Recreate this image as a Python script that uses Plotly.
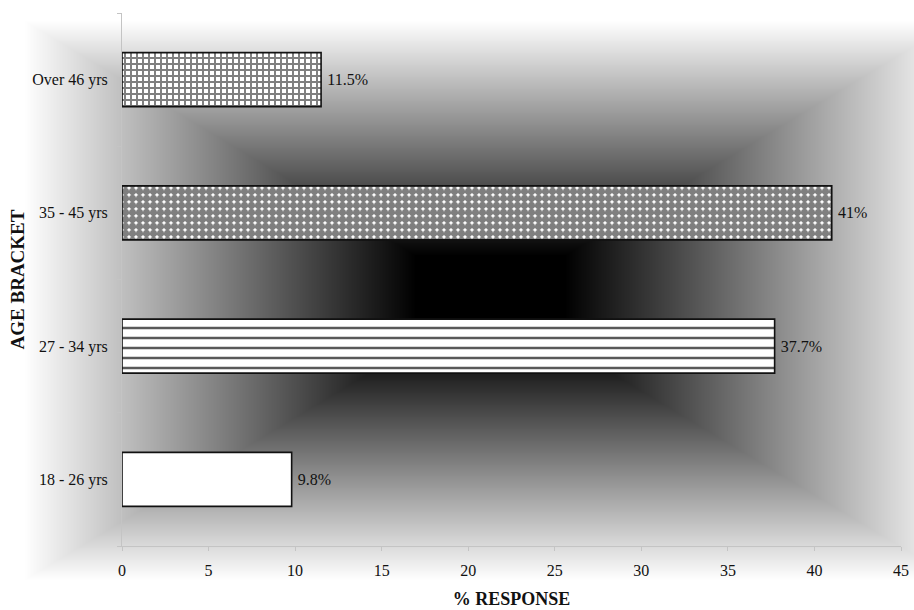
import base64
import struct
import zlib

import numpy as np
import plotly.graph_objects as go

# ---- data ----
categories = ["18 - 26 yrs", "27 - 34 yrs", "35 - 45 yrs", "Over 46 yrs"]
responses = [9.8, 37.7, 41.0, 11.5]
value_labels = [f"{v:g}%" for v in responses]
x_ticks = [0, 5, 10, 15, 20, 25, 30, 35, 40, 45]

# ---- styling ----
W, H = 914, 610
ML, MR, MT, MB = 122, 13, 13, 64
FONT = "Liberation Serif"
patterns = [
    dict(shape=""),
    dict(shape="-", fgcolor="black", bgcolor="white", size=10, solidity=0.25, fgopacity=0.65),
    dict(shape=".", fgcolor="black", bgcolor="white", size=7, solidity=0.8),
    dict(shape="+", fgcolor="black", bgcolor="white", size=6, solidity=0.55),
]


def png_gray(arr):
    h, w = arr.shape
    raw = b"".join(b"\x00" + arr[i].tobytes() for i in range(h))

    def chunk(t, d):
        c = struct.pack(">I", len(d)) + t + d
        return c + struct.pack(">I", zlib.crc32(t + d) & 0xFFFFFFFF)

    return (b"\x89PNG\r\n\x1a\n"
            + chunk(b"IHDR", struct.pack(">IIBBBBB", w, h, 8, 0, 0, 0, 0))
            + chunk(b"IDAT", zlib.compress(raw, 9))
            + chunk(b"IEND", b""))


# rectangular "from centre" background gradient (decoration only)
cx, cy, ax, by = 490.0, 300.0, 490.0, 294.0
xs = np.arange(W)[None, :]
ys = np.arange(H)[:, None]
t = np.maximum(np.abs(xs - cx) / ax, np.abs(ys - cy) / by)
g = np.clip((t - 0.15) / 0.8, 0, 1)
bg = (255 * g).astype(np.uint8)
bg_uri = "data:image/png;base64," + base64.b64encode(png_gray(bg)).decode()

pw, ph = W - ML - MR, H - MT - MB

fig = go.Figure()
for cat, val, lab, pat in zip(categories, responses, value_labels, patterns):
    fig.add_trace(go.Bar(
        y=[cat], x=[val], orientation="h",
        text=["\u2009" + lab], textposition="outside", cliponaxis=False,
        textfont=dict(family=FONT, size=16, color="#111"),
        marker=dict(color="white", line=dict(color="#111", width=1.6), pattern=pat),
        showlegend=False, hoverinfo="skip",
    ))

fig.update_layout(
    width=W, height=H, autosize=False,
    margin=dict(l=ML, r=MR, t=MT, b=MB, pad=0),
    paper_bgcolor="white", plot_bgcolor="rgba(0,0,0,0)",
    bargap=0.595, barmode="overlay",
    font=dict(family=FONT, size=16, color="#111"),
    images=[dict(source=bg_uri, xref="paper", yref="paper",
                 x=-ML / pw, y=1 + MT / ph, sizex=W / pw, sizey=H / ph,
                 xanchor="left", yanchor="top", sizing="stretch", layer="below")],
    xaxis=dict(range=[0, 45], tickvals=x_ticks, showgrid=False, zeroline=False,
               automargin=False,
               showline=True, linecolor="#c4c4c4", linewidth=1,
               ticks="outside", ticklen=4, tickcolor="#c4c4c4",
               tickfont=dict(family=FONT, size=16, color="#111"),
               ticklabelstandoff=6,
               title=dict(text="<b>% RESPONSE</b>", standoff=14,
                          font=dict(family=FONT, size=18, color="#111"))),
    yaxis=dict(type="category", categoryorder="array", categoryarray=categories,
               automargin=False,
               showgrid=False, zeroline=False, showline=True, linecolor="#c4c4c4",
               linewidth=1, ticks="outside", ticklen=4, tickcolor="#c4c4c4",
               tickson="boundaries", ticklabelstandoff=10,
               tickfont=dict(family=FONT, size=16, color="#111"),
               title=dict(text="<b>AGE BRACKET</b>", standoff=2,
                          font=dict(family=FONT, size=19, color="#111"))),
)

fig.write_html("out.html")
